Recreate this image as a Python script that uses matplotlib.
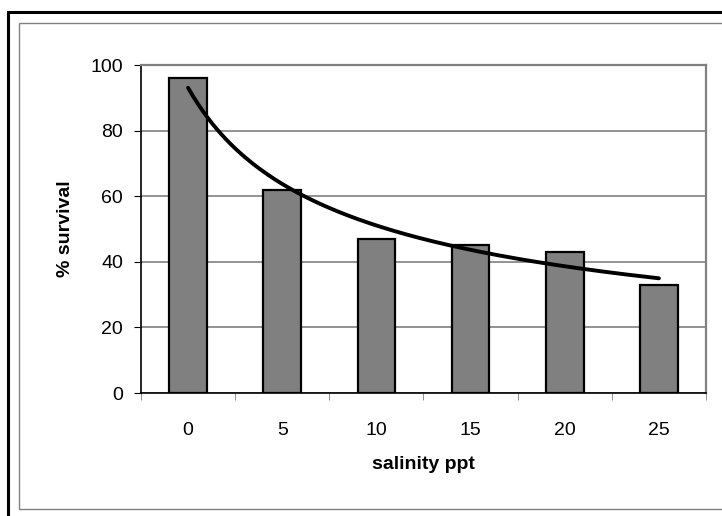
import numpy as np
import matplotlib
matplotlib.use("Agg")
import matplotlib.pyplot as plt
from matplotlib.lines import Line2D

categories = ["0", "5", "10", "15", "20", "25"]
survival = [96, 62, 47, 45, 43, 33]
yticks = [0, 20, 40, 60, 80, 100]

plt.rcParams['font.family'] = ['Liberation Sans', 'DejaVu Sans']

W, H = 722, 516
fig = plt.figure(figsize=(W / 100, H / 100), dpi=100)

def fx(px):
    return px / W

def fy(py):
    return 1 - py / H

# outer black frame (left and top visible, continues past the image edges)
fig.add_artist(Line2D([fx(8), fx(8), fx(730)], [fy(530), fy(12), fy(12)],
                      transform=fig.transFigure, color='black', linewidth=2.2,
                      solid_joinstyle='miter'))
# inner gray frame
fig.add_artist(Line2D([fx(730), fx(19), fx(19), fx(730)],
                      [fy(509), fy(509), fy(23), fy(23)],
                      transform=fig.transFigure, color='#808080', linewidth=1.0,
                      solid_joinstyle='miter'))

ax = fig.add_axes([fx(141), fy(393), (706 - 141) / W, (393 - 65) / H])
x = np.arange(len(categories))
ax.bar(x, survival, width=0.4, color='#808080', edgecolor='black', linewidth=1.6, zorder=3)

# power trendline (Excel style, x = 1..n)
xi = np.arange(1, len(survival) + 1)
c, lnb = np.polyfit(np.log(xi), np.log(survival), 1)
xs = np.linspace(1, len(survival), 200)
ax.plot(xs - 1, np.exp(lnb) * xs ** c, color='black', linewidth=2.8, zorder=4,
        solid_capstyle='round')

ax.set_xlim(-0.5, len(categories) - 0.5)
ax.set_ylim(0, 100)
ax.set_yticks(yticks)
ax.set_xticks(x)
ax.set_xticklabels(categories)
ax.set_xticks(np.arange(-0.5, len(categories)), minor=True)
ax.tick_params(axis='x', which='major', length=0, pad=21, labelsize=14)
ax.tick_params(axis='x', which='minor', length=5, direction='out', color='#808080')
ax.tick_params(axis='y', length=5, direction='out', labelsize=14, pad=8)
ax.yaxis.grid(True, color='#808080', linewidth=1.2, zorder=0)
ax.set_axisbelow(True)
for s in ['top', 'right']:
    ax.spines[s].set_color('#808080')
    ax.spines[s].set_linewidth(1.6)
for s in ['left', 'bottom']:
    ax.spines[s].set_color('black')
    ax.spines[s].set_linewidth(1.2)

ax.set_xlabel('salinity ppt', fontsize=14, fontweight='bold', labelpad=12)
ax.set_ylabel('% survival', fontsize=14, fontweight='bold', labelpad=12)

fig.savefig('out.png', dpi=100)
